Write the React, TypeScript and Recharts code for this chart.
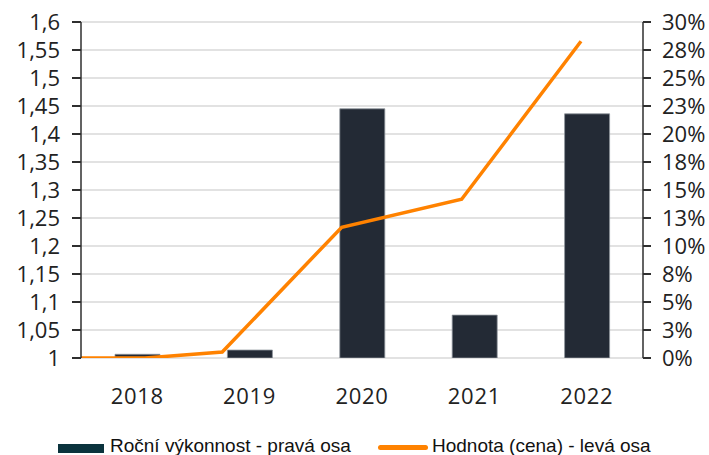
import {
  Bar,
  CartesianGrid,
  ComposedChart,
  Legend,
  Line,
  XAxis,
  YAxis
} from "recharts";

const years = ["2018", "2019", "2020", "2021", "2022"];
// roční výkonnost v %, pravá osa
const performance = [0.33, 0.71, 22.25, 3.83, 21.8];

// hodnota (cena), levá osa - body v čase (roky)
const priceTimes = [2018, 2018.535, 2019.18, 2020.178, 2021.18, 2022.177];
const priceValues = [1.0, 1.0, 1.0107, 1.2335, 1.2834, 1.5655];

const yearTicks = [2018, 2019, 2020, 2021, 2022];
const leftTicks = [1, 1.05, 1.1, 1.15, 1.2, 1.25, 1.3, 1.35, 1.4, 1.45, 1.5, 1.55, 1.6];
const rightTicks = [0, 2.5, 5, 7.5, 10, 12.5, 15, 17.5, 20, 22.5, 25, 27.5, 30];

const barLabel = "Roční výkonnost - pravá osa";
const lineLabel = "Hodnota (cena) - levá osa";

const barData = years.map((year, i) => ({ year, perf: performance[i] }));
const lineData = priceTimes.map((t, i) => ({ t, price: priceValues[i] }));

const axisColor = "#2f2f2f";
const textColor = "#222222";
const fontFamily = "'Open Sans'";

function formatLeft(value: number) {
  return String(value).replace(".", ",");
}

function formatRight(value: number) {
  return `${Math.round(value)}%`;
}

// tick mark + popisek v jednom
function LeftTick(props: any) {
  const { x, y, payload } = props;
  return (
    <g>
      <path d={`M${x + 12},${y}H${x + 21}`} stroke={axisColor} strokeWidth={2} fill="none" />
      <text x={x} y={y} dy="0.355em" textAnchor="end" fontSize={22} fontFamily={fontFamily} fill={textColor}>
        {formatLeft(payload.value)}
      </text>
    </g>
  );
}

function RightTick(props: any) {
  const { x, y, payload } = props;
  return (
    <g>
      <path d={`M${x - 19},${y}H${x - 11}`} stroke={axisColor} strokeWidth={2} fill="none" />
      <text x={x} y={y} dy="0.355em" textAnchor="start" fontSize={22} fontFamily={fontFamily} fill={textColor}>
        {formatRight(payload.value)}
      </text>
    </g>
  );
}

function TimeTick(props: any) {
  const { x, y } = props;
  return <path d={`M${x},${y - 9}V${y}`} stroke={axisColor} strokeWidth={2} fill="none" />;
}

function ChartLegend() {
  return (
    <div
      style={{
        position: "relative",
        height: 47,
        width: 709,
        fontFamily: "'Liberation Sans', Arial, sans-serif",
        fontSize: 19,
        lineHeight: "19px",
        color: "#111"
      }}
    >
      <div
        style={{
          position: "absolute",
          left: 58,
          top: 36,
          width: 46,
          height: 9,
          background: "#0b333d"
        }}
      />
      <span style={{ position: "absolute", left: 110, top: 28, whiteSpace: "nowrap" }}>
        {barLabel}
      </span>
      <div
        style={{
          position: "absolute",
          left: 378,
          top: 37,
          width: 50,
          height: 5,
          borderRadius: 3,
          background: "#ff8200"
        }}
      />
      <span style={{ position: "absolute", left: 432, top: 28, whiteSpace: "nowrap" }}>
        {lineLabel}
      </span>
    </div>
  );
}

export default function App() {
  return (
    <div style={{ position: "absolute", left: 0, top: 0, width: 709, height: 455, background: "#fff" }}>
      <ComposedChart
        width={709}
        height={455}
        data={barData}
        margin={{ top: 22, right: 0, left: 0, bottom: 0 }}
      >
        <CartesianGrid
          xAxisId="t"
          yAxisId="left"
          vertical={false}
          stroke="#d9d9d9"
          strokeWidth={1.5}
        />

        <XAxis
          xAxisId="t"
          dataKey="t"
          type="number"
          domain={[2018, 2022.695]}
          ticks={yearTicks}
          interval={0}
          allowDataOverflow
          height={0}
          tick={<TimeTick />}
          tickSize={9}
          tickMargin={0}
          tickLine={false}
          stroke={axisColor}
          strokeWidth={1.5}
        />

        <XAxis
          xAxisId="cat"
          dataKey="year"
          height={50}
          axisLine={false}
          tickLine={false}
          tickSize={8}
          tickMargin={22}
          tick={{ fontSize: 22, fontFamily, fill: textColor, letterSpacing: 0.7 }}
          interval={0}
        />

        <YAxis
          yAxisId="left"
          orientation="left"
          width={81}
          domain={[1, 1.6]}
          ticks={leftTicks}
          interval={0}
          tickSize={8}
          tickMargin={13}
          tick={<LeftTick />}
          tickLine={false}
          stroke={axisColor}
          strokeWidth={1.5}
          allowDataOverflow
        />

        <YAxis
          yAxisId="right"
          orientation="right"
          width={66}
          domain={[0, 30]}
          ticks={rightTicks}
          interval={0}
          tickSize={7}
          tickMargin={12}
          tick={<RightTick />}
          tickLine={false}
          stroke={axisColor}
          strokeWidth={1.5}
          allowDataOverflow
        />

        <Legend verticalAlign="bottom" content={() => <ChartLegend />} />

        <Bar
          xAxisId="cat"
          yAxisId="right"
          dataKey="perf"
          name={barLabel}
          fill="#232a35"
          stroke="#8d939b"
          strokeWidth={0.8}
          barSize={45}
          isAnimationActive={false}
        />

        <Line
          xAxisId="t"
          yAxisId="left"
          data={lineData}
          dataKey="price"
          name={lineLabel}
          stroke="#ff8200"
          strokeWidth={3.5}
          dot={false}
          activeDot={false}
          type="linear"
          isAnimationActive={false}
        />
      </ComposedChart>
    </div>
  );
}
